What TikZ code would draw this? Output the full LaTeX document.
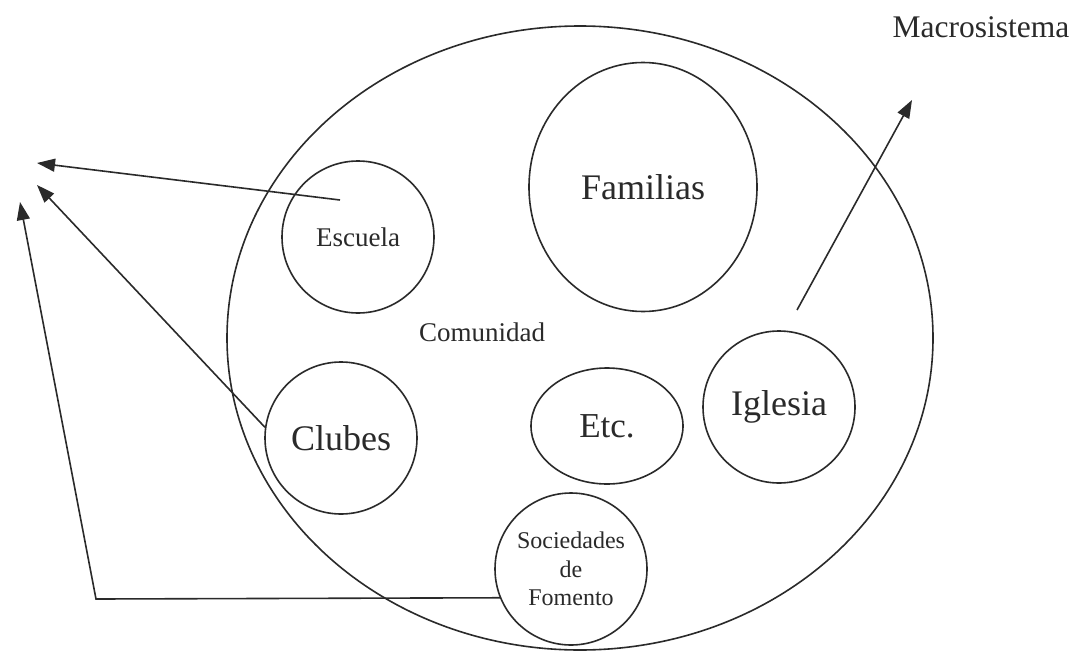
\documentclass[tikz,border=0pt]{standalone}
\usepackage{fontspec}
\setmainfont{Liberation Serif}
\usetikzlibrary{shapes.geometric,arrows.meta}
\definecolor{ink}{HTML}{2A2A2A}
\begin{document}
\begin{tikzpicture}[x=1pt,y=-1pt,
  ring/.style={draw=ink,circle,line width=1.6pt,inner sep=0pt,minimum size=152pt,text=ink},
  oval/.style={draw=ink,ellipse,line width=1.6pt,inner sep=0pt,text=ink},
  plain/.style={inner sep=0pt,text=ink},
  arr/.style={draw=ink,line width=1.6pt,-{Triangle[length=18pt,width=13pt]}},
  lnk/.style={draw=ink,line width=1.6pt}]
\useasboundingbox[fill=white] (0,0) rectangle (1078,653);
% big community ellipse
\node[oval,minimum width=706pt,minimum height=624pt] (macro) at (580,338) {};
% inner elements
\node[oval,minimum width=228pt,minimum height=249pt,font=\fontsize{36}{40}\selectfont] (familias) at (643,187) {Familias};
\node[ring,font=\fontsize{27}{30}\selectfont] (escuela) at (358,237) {Escuela};
\node[ring,font=\fontsize{36}{40}\selectfont] (clubes) at (341,438) {Clubes};
\node[oval,minimum width=152pt,minimum height=116pt,font=\fontsize{35}{40}\selectfont] (etc) at (607,426) {Etc.};
\node[ring,font=\fontsize{36}{40}\selectfont] (iglesia) at (779,407) {Iglesia};
\node[ring,align=center,font=\fontsize{24}{28.5}\selectfont] (soc) at (571,569) {Sociedades\\de\\Fomento};
% labels
\node[plain,font=\fontsize{27}{30}\selectfont] (comunidad) at (482,332) {Comunidad};
\node[plain,font=\fontsize{31.5}{36}\selectfont] (macrolbl) at (981,27) {Macrosistema};
% connector ends
\coordinate (eStart) at (340,200);
\coordinate (eTip) at (37,163);
\coordinate (cTip) at (37,185);
\coordinate (corner) at (96,599);
\coordinate (sTip) at (20,202);
\coordinate (iStart) at (797,310);
\coordinate (iTip) at (912,100);
% connectors
\draw[arr] (eStart) -- (eTip);
\draw[arr] (clubes.172) -- (cTip);
\draw[arr] (soc.202) -- (corner) -- (sTip);
\draw[arr] (iStart) -- (iTip);
\end{tikzpicture}
\end{document}
